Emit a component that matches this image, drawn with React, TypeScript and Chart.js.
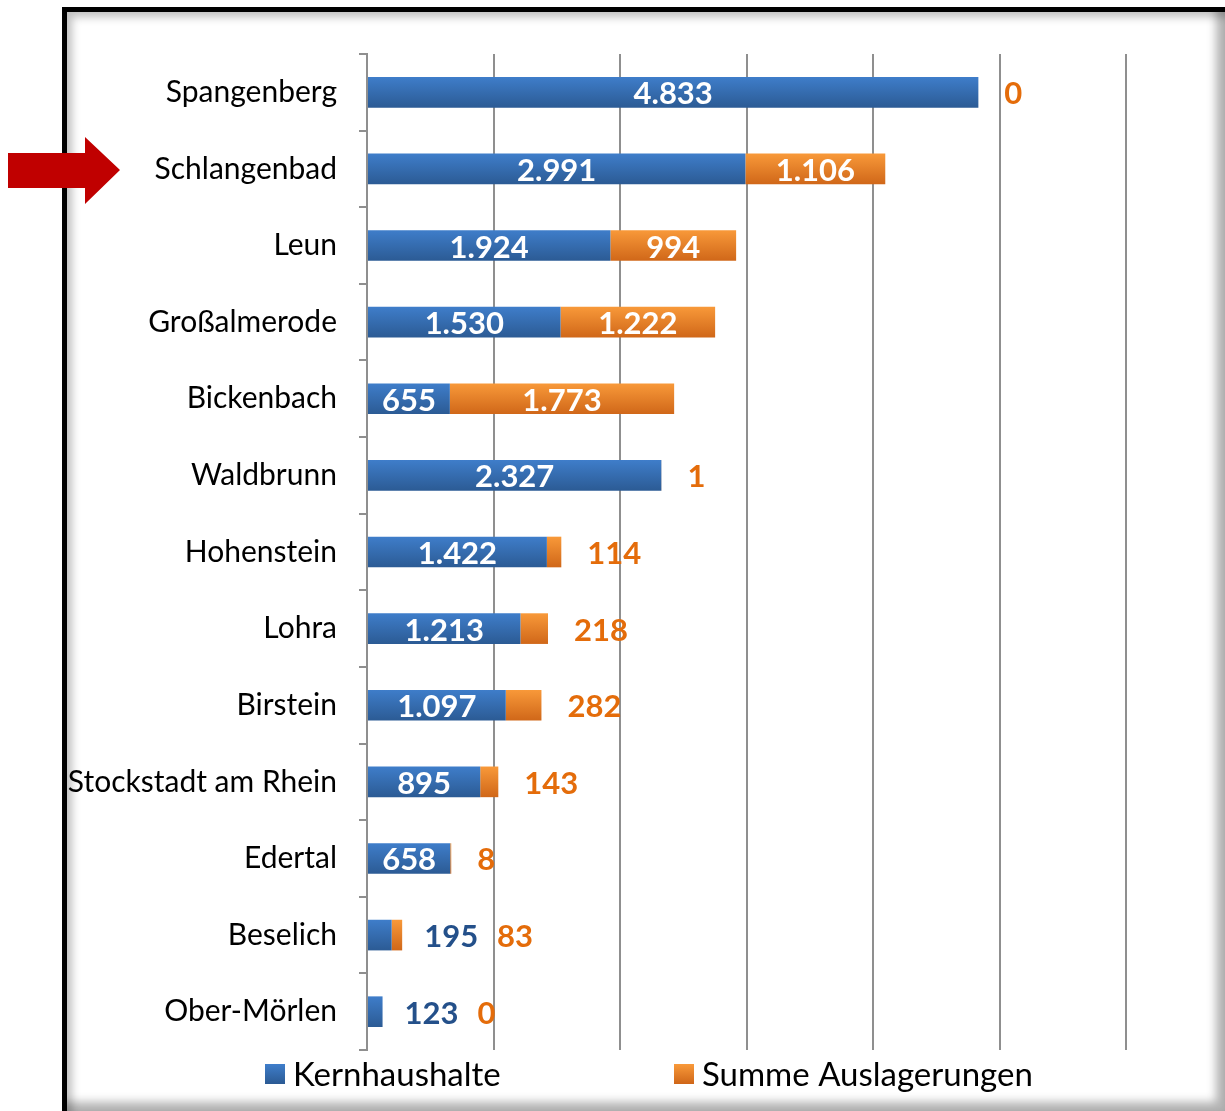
import React, { useEffect, useRef } from "react";
import { Chart, registerables } from "chart.js";

Chart.register(...registerables);

const categories = [
  "Spangenberg",
  "Schlangenbad",
  "Leun",
  "Großalmerode",
  "Bickenbach",
  "Waldbrunn",
  "Hohenstein",
  "Lohra",
  "Birstein",
  "Stockstadt am Rhein",
  "Edertal",
  "Beselich",
  "Ober-Mörlen",
];
const kernhaushalte = [4833, 2991, 1924, 1530, 655, 2327, 1422, 1213, 1097, 895, 658, 195, 123];
const auslagerungen = [0, 1106, 994, 1222, 1773, 1, 114, 218, 282, 143, 8, 83, 0];
const seriesNames = ["Kernhaushalte", "Summe Auslagerungen"];
const xMax = 6000;
const xStep = 1000;

const FONT = "Lato, 'Open Sans', sans-serif";
const BLUE_TOP = "#3f7ecb";
const BLUE_BOTTOM = "#2b5a93";
const ORANGE_TOP = "#f99a3a";
const ORANGE_BOTTOM = "#cf6618";
const ORANGE_TEXT = "#e46c0a";
const BLUE_TEXT = "#24508a";

function fmt(n: number): string {
  const s = String(Math.round(n));
  return s.replace(/\B(?=(\d{3})+(?!\d))/g, ".");
}

function barGradient(top: string, bottom: string) {
  return (c: any) => {
    const chart = c.chart;
    const y = chart.scales?.y;
    if (!y || c.dataIndex === undefined) return top;
    const center = y.getPixelForValue(c.dataIndex);
    if (!isFinite(center)) return top;
    const half = 16;
    const g = chart.ctx.createLinearGradient(0, center - half, 0, center + half);
    g.addColorStop(0, top);
    g.addColorStop(1, bottom);
    return g;
  };
}

const labelPlugin = {
  id: "barLabels",
  afterDatasetsDraw(chart: any) {
    const ctx = chart.ctx;
    const m0 = chart.getDatasetMeta(0);
    const m1 = chart.getDatasetMeta(1);
    ctx.save();
    ctx.font = `bold 31px ${FONT}`;
    ctx.textBaseline = "middle";
    for (let i = 0; i < categories.length; i++) {
      const b0 = m0.data[i];
      const b1 = m1.data[i];
      const stackEnd = Math.max(b0.x, b1.x);
      const y = b0.y + 2;
      let cursor = stackEnd;
      const t0 = fmt(kernhaushalte[i]);
      const w0 = Math.abs(b0.x - b0.base);
      const tw0 = ctx.measureText(t0).width;
      if (w0 >= tw0 + 10) {
        ctx.fillStyle = "#ffffff";
        ctx.textAlign = "center";
        ctx.fillText(t0, (b0.x + b0.base) / 2, y);
      } else {
        ctx.fillStyle = BLUE_TEXT;
        ctx.textAlign = "left";
        const x = stackEnd + 22;
        ctx.fillText(t0, x, y);
        cursor = x + tw0;
      }
      const t1 = fmt(auslagerungen[i]);
      const w1 = Math.abs(b1.x - b1.base);
      const tw1 = ctx.measureText(t1).width;
      if (w1 >= tw1 + 10) {
        ctx.fillStyle = "#ffffff";
        ctx.textAlign = "center";
        ctx.fillText(t1, (b1.x + b1.base) / 2, y);
      } else {
        ctx.fillStyle = ORANGE_TEXT;
        ctx.textAlign = "left";
        const x = cursor === stackEnd ? stackEnd + 26 : cursor + 19;
        ctx.fillText(t1, x, y);
      }
    }
    ctx.restore();
  },
};

const legendPlugin = {
  id: "customLegend",
  afterDraw(chart: any) {
    const ctx = chart.ctx;
    const positions = [265, 674];
    const cy = 1074;
    const size = 20;
    ctx.save();
    ctx.font = `33px ${FONT}`;
    ctx.textBaseline = "middle";
    ctx.textAlign = "left";
    const colors = [
      [BLUE_TOP, BLUE_BOTTOM],
      [ORANGE_TOP, ORANGE_BOTTOM],
    ];
    chart.data.datasets.forEach((ds: any, k: number) => {
      const x = positions[k];
      const g = ctx.createLinearGradient(0, cy - size / 2, 0, cy + size / 2);
      g.addColorStop(0, colors[k][0]);
      g.addColorStop(1, colors[k][1]);
      ctx.fillStyle = g;
      ctx.fillRect(x, cy - size / 2, size, size);
      ctx.fillStyle = "#000000";
      ctx.fillText(ds.label, x + size + 8, cy + 1);
    });
    ctx.restore();
  },
};

export default function App() {
  const ref = useRef<HTMLCanvasElement | null>(null);
  useEffect(() => {
    if (!ref.current) return;
    const chart = new Chart(ref.current, {
      type: "bar",
      data: {
        labels: categories,
        datasets: [
          {
            label: seriesNames[0],
            data: kernhaushalte,
            backgroundColor: barGradient(BLUE_TOP, BLUE_BOTTOM) as any,
            categoryPercentage: 1,
            barPercentage: 0.4,
          },
          {
            label: seriesNames[1],
            data: auslagerungen,
            backgroundColor: barGradient(ORANGE_TOP, ORANGE_BOTTOM) as any,
            categoryPercentage: 1,
            barPercentage: 0.4,
          },
        ],
      },
      options: {
        indexAxis: "y",
        responsive: false,
        animation: false,
        layout: { padding: { left: 0, top: 54, right: 99, bottom: 61 } },
        plugins: {
          legend: { display: false },
          tooltip: { enabled: false },
        },
        scales: {
          x: {
            stacked: true,
            min: 0,
            max: xMax,
            ticks: { display: false, stepSize: xStep },
            grid: { color: "#8f8f8f", lineWidth: 2, drawTicks: false },
            border: { display: false },
            afterFit: (s: any) => {
              s.height = 0;
            },
          },
          y: {
            stacked: true,
            ticks: {
              color: "#000000",
              font: { family: FONT, size: 30 },
              padding: 22,
            },
            grid: {
              drawOnChartArea: false,
              drawTicks: true,
              tickLength: 8,
              color: "#8f8f8f",
              lineWidth: 2,
            },
            border: { display: true, color: "#8f8f8f", width: 2 },
            afterFit: (s: any) => {
              s.width = 367;
            },
          },
        },
      },
      plugins: [labelPlugin, legendPlugin],
    });
    return () => chart.destroy();
  }, []);

  return (
    <div style={{ position: "absolute", left: 0, top: 0, width: 1225, height: 1111, overflow: "hidden", background: "#ffffff" }}>
      <div
        style={{
          position: "absolute",
          left: 62,
          top: 7,
          width: 1163,
          height: 1104,
          boxSizing: "border-box",
          borderLeft: "5px solid #000",
          borderTop: "5px solid #000",
          background: "#ffffff",
          boxShadow: "inset 5px 5px 8px rgba(0,0,0,0.25), inset -9px -9px 10px rgba(0,0,0,0.3)",
        }}
      />
      <svg width={130} height={80} style={{ position: "absolute", left: 0, top: 130 }}>
        <polygon points="8,23 85,23 85,7 120,40 85,74 85,58 8,58" fill="#c00000" />
      </svg>
      <canvas ref={ref} width={1225} height={1111} style={{ position: "absolute", left: 0, top: 0 }} />
    </div>
  );
}
